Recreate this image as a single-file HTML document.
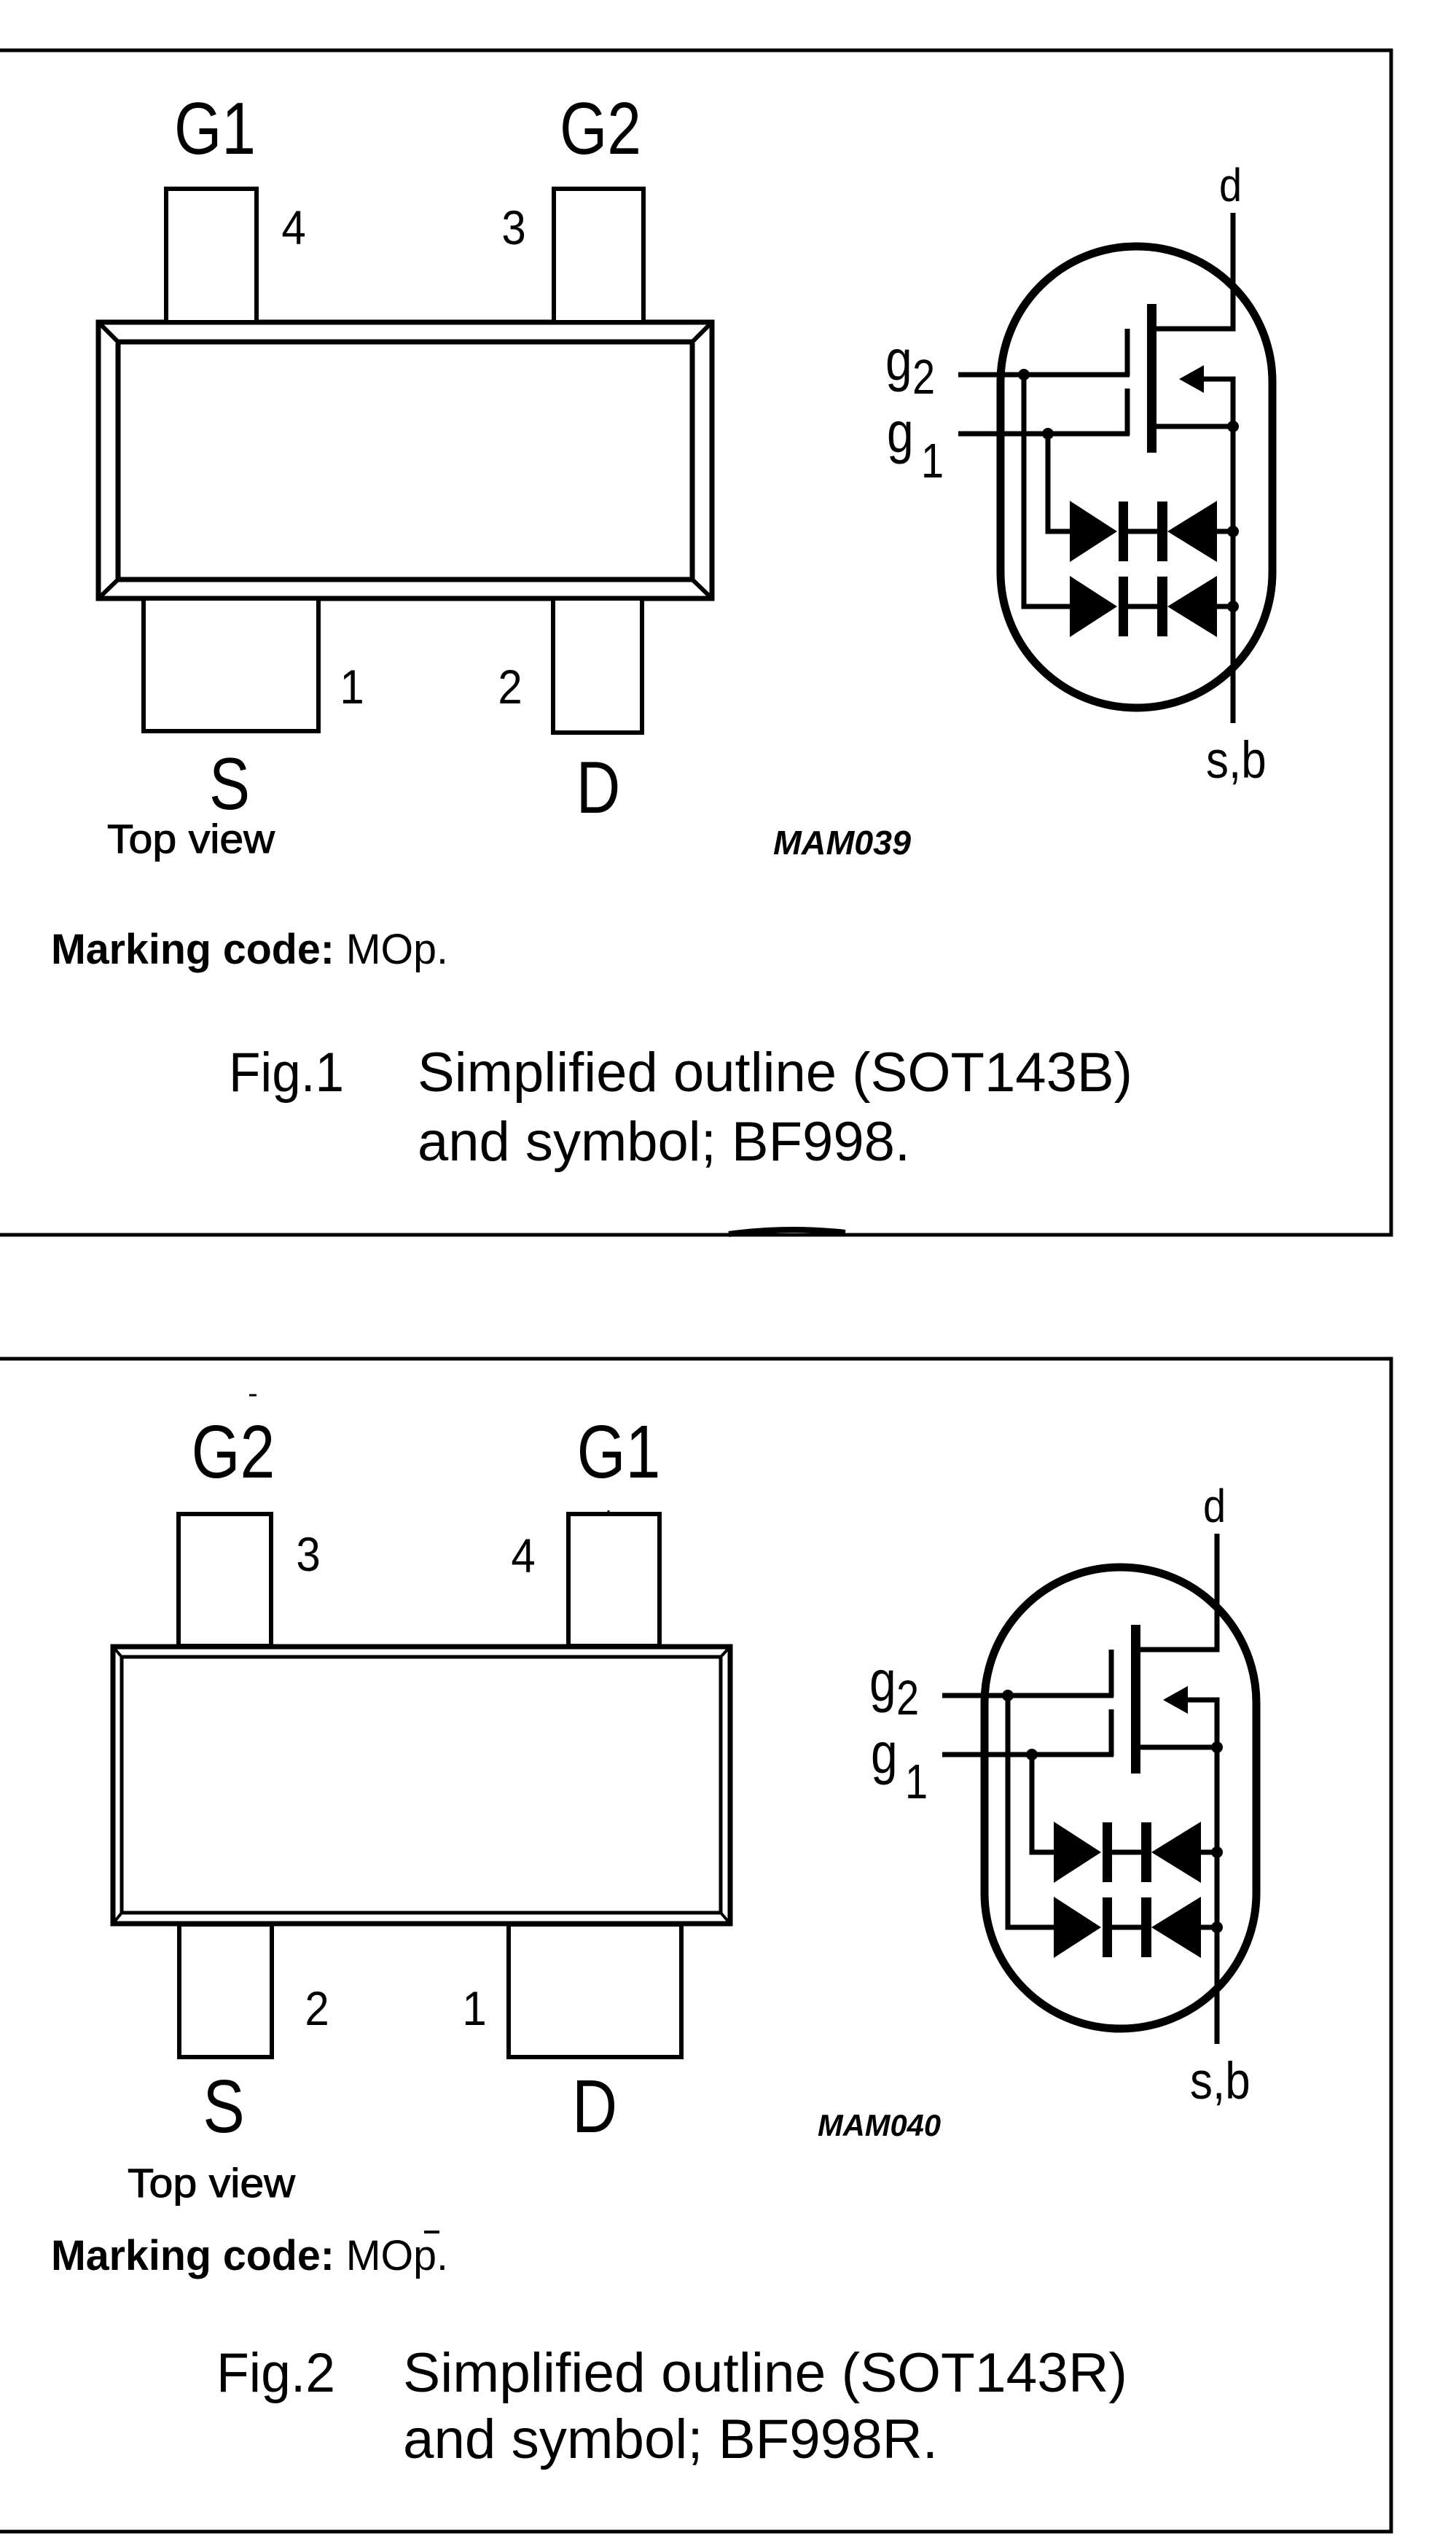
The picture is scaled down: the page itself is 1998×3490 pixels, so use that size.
<!DOCTYPE html>
<html><head><meta charset="utf-8"><style>
html,body{margin:0;padding:0;background:#fff;}
svg{display:block;}
text{font-family:"Liberation Sans",Arial,sans-serif;fill:#000;}
</style></head><body>
<svg width="1998" height="3490" viewBox="0 0 1998 3490" xmlns="http://www.w3.org/2000/svg">
<rect width="1998" height="3490" fill="#fff"/>
<!-- ===== FIG 1 ===== -->
<g fill="none" stroke="#000">
<path d="M0,69 H1909 V1694 H0" stroke-width="5"/>
<path d="M1000,1693 Q1080,1682 1160,1691" stroke-width="8"/>
<!-- body bevel -->
<rect x="135" y="442" width="842" height="379" stroke-width="7"/>
<rect x="162" y="469" width="788" height="326" stroke-width="7"/>
<path d="M135,442 L162,469 M977,442 L950,469 M135,821 L162,795 M977,821 L950,795" stroke-width="6"/>
</g>
<g fill="#fff" stroke="#000" stroke-width="6">
<rect x="228" y="259" width="124" height="183"/>
<rect x="760" y="259" width="123" height="183"/>
<rect x="197" y="821" width="240" height="182"/>
<rect x="759" y="821" width="122" height="184"/>
</g>
<g text-anchor="middle" font-size="84">
<text transform="translate(295 211) scale(1 1.2)">G1</text>
<text transform="translate(824 211) scale(1 1.2)">G2</text>
<text transform="translate(315 1110) scale(1 1.2)">S</text>
<text transform="translate(821 1115) scale(1 1.2)">D</text>
</g>
<g text-anchor="middle" font-size="60">
<text transform="translate(403 335) scale(1 1.1)">4</text>
<text transform="translate(705 335) scale(1 1.1)">3</text>
<text transform="translate(483 965) scale(1 1.1)">1</text>
<text transform="translate(700 965) scale(1 1.1)">2</text>
</g>
<text x="147" y="1170" font-size="56" textLength="230" lengthAdjust="spacingAndGlyphs" stroke="#000" stroke-width="1">Top view</text>
<text x="1061" y="1172" font-size="46" font-weight="bold" font-style="italic" textLength="189" lengthAdjust="spacingAndGlyphs">MAM039</text>
<text x="70" y="1322" font-size="58" textLength="545" lengthAdjust="spacingAndGlyphs"><tspan font-weight="bold">Marking code:</tspan> MOp.</text>
<text x="314" y="1497" font-size="76" textLength="158" lengthAdjust="spacingAndGlyphs">Fig.1</text>
<text x="573" y="1497" font-size="76" textLength="981" lengthAdjust="spacingAndGlyphs">Simplified outline (SOT143B)</text>
<text x="573" y="1592" font-size="76" textLength="676" lengthAdjust="spacingAndGlyphs">and symbol; BF998.</text>

<!-- symbol 1 -->
<g id="sym">
<rect x="1373" y="338" width="373" height="633" rx="186" ry="186" fill="none" stroke="#000" stroke-width="11"/>
<g fill="none" stroke="#000" stroke-width="7">
<path d="M1692,292 V451 H1587"/>
<path d="M1547,451 V516 M1547,533 V597"/>
<path d="M1315,514 H1550 M1315,595 H1550"/>
<path d="M1645,520 H1692 V992"/>
<path d="M1587,585 H1692"/>
<path d="M1438,595 V729 H1470 M1405,514 V832 H1470"/>
<path d="M1548,729 H1588 M1670,729 H1692 M1548,832 H1588 M1670,832 H1692"/>
</g>
<g fill="#000">
<rect x="1574" y="417" width="13" height="204"/>
<polygon points="1618,520 1652,501 1652,539"/>
<circle cx="1692" cy="585" r="8"/><circle cx="1692" cy="729" r="8"/><circle cx="1692" cy="832" r="8"/>
<circle cx="1405" cy="514" r="8"/><circle cx="1438" cy="595" r="8"/>
<polygon points="1468,687 1468,771 1533,729"/>
<rect x="1535" y="688" width="13" height="82"/>
<rect x="1588" y="688" width="14" height="82"/>
<polygon points="1670,687 1670,771 1602,729"/>
<polygon points="1468,790 1468,874 1533,832"/>
<rect x="1535" y="791" width="13" height="82"/>
<rect x="1588" y="791" width="14" height="82"/>
<polygon points="1670,790 1670,874 1602,832"/>
</g>
</g>
<text transform="translate(1215 521) scale(1 1.2)" font-size="66">g</text>
<text transform="translate(1252 540) scale(1 1.2)" font-size="56">2</text>
<text transform="translate(1217 620) scale(1 1.2)" font-size="66">g</text>
<text transform="translate(1264 655) scale(1 1.2)" font-size="56">1</text>
<text transform="translate(1673 276) scale(1 1.15)" font-size="56">d</text>
<text transform="translate(1655 1067) scale(1 1.15)" font-size="62">s,b</text>

<!-- ===== FIG 2 ===== -->
<g fill="none" stroke="#000">
<path d="M0,1864 H1909 V3473 H0" stroke-width="5"/>
<rect x="155" y="2259" width="847" height="380" stroke-width="7"/>
<rect x="167" y="2273" width="822" height="351" stroke-width="5"/>
<path d="M155,2259 L167,2273 M1002,2259 L989,2273 M155,2639 L167,2624 M1002,2639 L989,2624" stroke-width="4"/>
<path d="M342,1914 H352 M835,2072 V2078" stroke-width="3"/>
</g>
<g fill="#fff" stroke="#000" stroke-width="6">
<rect x="245" y="2077" width="127" height="181"/>
<rect x="780" y="2077" width="125" height="181"/>
<rect x="246" y="2640" width="127" height="182"/>
<rect x="698" y="2640" width="237" height="182"/>
</g>
<g text-anchor="middle" font-size="86">
<text transform="translate(320 2027) scale(1 1.2)">G2</text>
<text transform="translate(849 2027) scale(1 1.2)">G1</text>
<text transform="translate(307 2925) scale(1 1.2)">S</text>
<text transform="translate(816 2925) scale(1 1.2)">D</text>
</g>
<g text-anchor="middle" font-size="60">
<text transform="translate(423 2155) scale(1 1.1)">3</text>
<text transform="translate(718 2157) scale(1 1.1)">4</text>
<text transform="translate(435 2778) scale(1 1.1)">2</text>
<text transform="translate(651 2778) scale(1 1.1)">1</text>
</g>
<text x="175" y="3014" font-size="56" textLength="230" lengthAdjust="spacingAndGlyphs" stroke="#000" stroke-width="1">Top view</text>
<text x="1122" y="2930" font-size="42" font-weight="bold" font-style="italic" textLength="169" lengthAdjust="spacingAndGlyphs">MAM040</text>
<text x="70" y="3114" font-size="58" textLength="545" lengthAdjust="spacingAndGlyphs"><tspan font-weight="bold">Marking code:</tspan> MOp.</text>
<path d="M582,3062 H603" stroke="#000" stroke-width="4"/>
<text x="297" y="3281" font-size="76" textLength="163" lengthAdjust="spacingAndGlyphs">Fig.2</text>
<text x="553" y="3281" font-size="76" textLength="994" lengthAdjust="spacingAndGlyphs">Simplified outline (SOT143R)</text>
<text x="553" y="3372" font-size="76" textLength="734" lengthAdjust="spacingAndGlyphs">and symbol; BF998R.</text>

<g transform="translate(-22 1812)">
<rect x="1373" y="338" width="373" height="633" rx="186" ry="186" fill="none" stroke="#000" stroke-width="11"/>
<g fill="none" stroke="#000" stroke-width="7">
<path d="M1692,292 V451 H1587"/>
<path d="M1547,451 V516 M1547,533 V597"/>
<path d="M1315,514 H1550 M1315,595 H1550"/>
<path d="M1645,520 H1692 V992"/>
<path d="M1587,585 H1692"/>
<path d="M1438,595 V729 H1470 M1405,514 V832 H1470"/>
<path d="M1548,729 H1588 M1670,729 H1692 M1548,832 H1588 M1670,832 H1692"/>
</g>
<g fill="#000">
<rect x="1574" y="417" width="13" height="204"/>
<polygon points="1618,520 1652,501 1652,539"/>
<circle cx="1692" cy="585" r="8"/><circle cx="1692" cy="729" r="8"/><circle cx="1692" cy="832" r="8"/>
<circle cx="1405" cy="514" r="8"/><circle cx="1438" cy="595" r="8"/>
<polygon points="1468,687 1468,771 1533,729"/>
<rect x="1535" y="688" width="13" height="82"/>
<rect x="1588" y="688" width="14" height="82"/>
<polygon points="1670,687 1670,771 1602,729"/>
<polygon points="1468,790 1468,874 1533,832"/>
<rect x="1535" y="791" width="13" height="82"/>
<rect x="1588" y="791" width="14" height="82"/>
<polygon points="1670,790 1670,874 1602,832"/>
</g>
<text transform="translate(1215 521) scale(1 1.2)" font-size="66">g</text>
<text transform="translate(1252 540) scale(1 1.2)" font-size="56">2</text>
<text transform="translate(1217 620) scale(1 1.2)" font-size="66">g</text>
<text transform="translate(1264 655) scale(1 1.2)" font-size="56">1</text>
<text transform="translate(1673 276) scale(1 1.15)" font-size="56">d</text>
<text transform="translate(1655 1067) scale(1 1.15)" font-size="62">s,b</text>
</g>
</svg>
</body></html>
